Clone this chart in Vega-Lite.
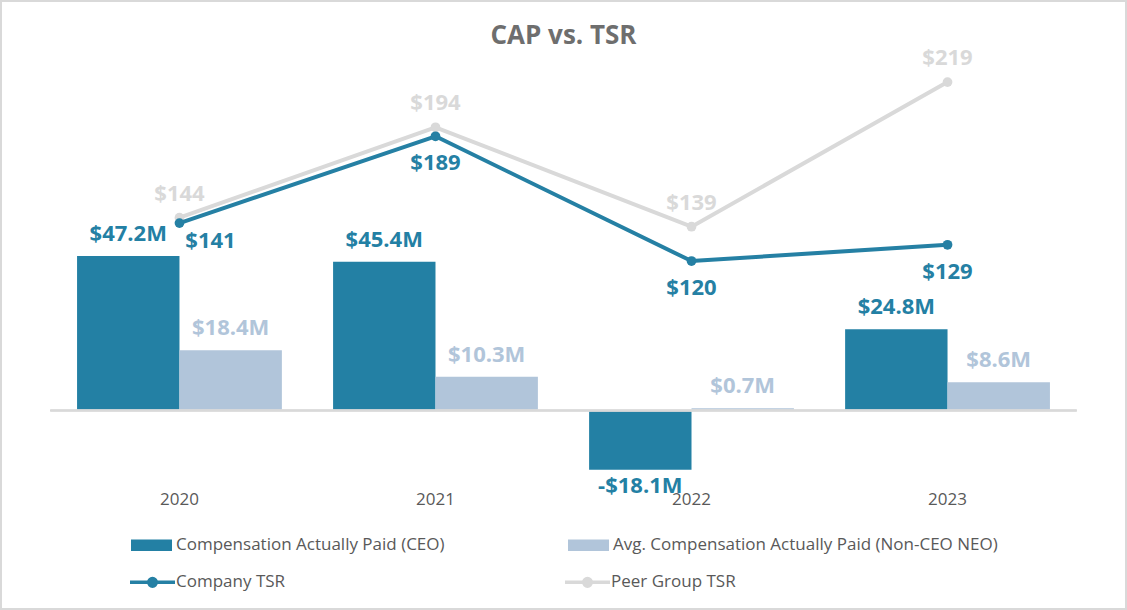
{
  "$schema": "https://vega.github.io/schema/vega-lite/v6.json",
  "width": 1127,
  "height": 610,
  "autosize": {"type": "none"},
  "padding": 0,
  "background": "white",
  "title": {"text": "CAP vs. TSR", "fontSize": 26, "font": "Open Sans", "fontWeight": "bold", "color": "#6e6e6e", "anchor": "middle", "offset": -70, "baseline": "alphabetic"},
  "config": {"view": {"stroke": "#d9d9d9", "strokeWidth": 4}, "font": "Open Sans"},
  "datasets": {
    "cap": [
      {"year": "2020", "metric": "Compensation Actually Paid (CEO)", "value": 47.2, "label": "$47.2M"},
      {"year": "2020", "metric": "Avg. Compensation Actually Paid (Non-CEO NEO)", "value": 18.4, "label": "$18.4M"},
      {"year": "2021", "metric": "Compensation Actually Paid (CEO)", "value": 45.4, "label": "$45.4M"},
      {"year": "2021", "metric": "Avg. Compensation Actually Paid (Non-CEO NEO)", "value": 10.3, "label": "$10.3M"},
      {"year": "2022", "metric": "Compensation Actually Paid (CEO)", "value": -18.1, "label": "-$18.1M"},
      {"year": "2022", "metric": "Avg. Compensation Actually Paid (Non-CEO NEO)", "value": 0.7, "label": "$0.7M"},
      {"year": "2023", "metric": "Compensation Actually Paid (CEO)", "value": 24.8, "label": "$24.8M"},
      {"year": "2023", "metric": "Avg. Compensation Actually Paid (Non-CEO NEO)", "value": 8.6, "label": "$8.6M"}
    ],
    "tsr": [
      {"year": "2020", "series": "Company TSR", "value": 141},
      {"year": "2021", "series": "Company TSR", "value": 189},
      {"year": "2022", "series": "Company TSR", "value": 120},
      {"year": "2023", "series": "Company TSR", "value": 129},
      {"year": "2020", "series": "Peer Group TSR", "value": 144},
      {"year": "2021", "series": "Peer Group TSR", "value": 194},
      {"year": "2022", "series": "Peer Group TSR", "value": 139},
      {"year": "2023", "series": "Peer Group TSR", "value": 219}
    ]
  },
  "encoding": {
    "x": {
      "field": "year", "type": "nominal",
      "scale": {"paddingInner": 0.2, "paddingOuter": 0.301},
      "axis": {"orient": "bottom", "offset": -119, "domain": false, "ticks": false, "tickSize": 0, "labelPadding": 0, "labelFontSize": 17, "labelColor": "#595959", "labelFont": "Open Sans", "title": null, "labelAngle": 0, "grid": false}
    }
  },
  "layer": [
    {
      "data": {"name": "cap"},
      "encoding": {
        "xOffset": {"field": "metric", "type": "nominal", "scale": {"domain": ["Compensation Actually Paid (CEO)", "Avg. Compensation Actually Paid (Non-CEO NEO)"], "paddingInner": 0, "paddingOuter": 0}},
        "y": {"field": "value", "type": "quantitative", "scale": {"domain": [-60.92, 125.34], "nice": false, "zero": false}, "axis": null},
        "fill": {
          "field": "metric", "type": "nominal",
          "scale": {"domain": ["Compensation Actually Paid (CEO)", "Avg. Compensation Actually Paid (Non-CEO NEO)"], "range": ["#2380a4", "#b1c5da"]},
          "legend": {"orient": "none", "legendX": 131, "legendY": 524.5, "direction": "horizontal", "columns": 2, "columnPadding": 123, "title": null, "padding": 0, "symbolType": "M-1,-0.28H1V0.28H-1Z", "symbolSize": 1681, "symbolStrokeWidth": 0, "labelFontSize": 17, "labelFont": "Open Sans", "labelColor": "#595959", "labelOffset": 4, "labelLimit": 500}
        }
      },
      "layer": [
        {"mark": {"type": "bar"}},
        {
          "transform": [{"filter": "datum.value >= 0"}],
          "mark": {"type": "text", "fontSize": 22, "fontWeight": "bold", "baseline": "alphabetic", "dy": -15, "align": "center"},
          "encoding": {"text": {"field": "label"}}
        },
        {
          "transform": [{"filter": "datum.value < 0"}],
          "mark": {"type": "text", "fontSize": 22, "fontWeight": "bold", "baseline": "top", "dy": 6, "align": "center"},
          "encoding": {"text": {"field": "label"}}
        },
        {
          "mark": {"type": "rule", "color": "#d9d9d9", "strokeWidth": 1.5},
          "encoding": {
            "x": {"datum": "2020", "bandPosition": -0.13},
            "x2": {"datum": "2023", "bandPosition": 1.13},
            "y": {"datum": 0},
            "xOffset": null,
            "fill": null
          }
        }
      ]
    },
    {
      "data": {"name": "tsr"},
      "encoding": {
        "y": {"field": "value", "type": "quantitative", "scale": {"domain": [-73.0, 264.4], "nice": false, "zero": false}, "axis": null}
      },
      "layer": [
        {
          "transform": [{"filter": "datum.series == 'Peer Group TSR'"}],
          "mark": {"type": "line", "strokeWidth": 4, "strokeJoin": "round", "strokeCap": "round"},
          "encoding": {
            "stroke": {"field": "series", "type": "nominal", "scale": {"domain": ["Company TSR", "Peer Group TSR"], "range": ["#2580a4", "#d9d9d9"]},
              "legend": {"orient": "none", "legendX": 128, "legendY": 557.5, "direction": "horizontal", "columns": 2, "columnPadding": 272, "title": null, "padding": 0, "symbolType": "M-1,0H1M-0.169,0A0.169,0.169,0,1,1,0.169,0A0.169,0.169,0,1,1,-0.169,0M-0.09,0A0.09,0.09,0,1,1,0.09,0A0.09,0.09,0,1,1,-0.09,0M-0.02,0A0.02,0.02,0,1,1,0.02,0A0.02,0.02,0,1,1,-0.02,0", "symbolSize": 2025, "symbolStrokeWidth": 3.5, "labelFontSize": 17, "labelFont": "Open Sans", "labelColor": "#595959", "labelOffset": -1, "labelLimit": 500}}
          }
        },
        {
          "transform": [{"filter": "datum.series == 'Peer Group TSR'"}],
          "mark": {"type": "point", "filled": true, "size": 95, "opacity": 1},
          "encoding": {"color": {"field": "series", "type": "nominal", "scale": {"domain": ["Company TSR", "Peer Group TSR"], "range": ["#2580a4", "#d9d9d9"]}, "legend": null}}
        },
        {
          "transform": [{"filter": "datum.series == 'Company TSR'"}],
          "mark": {"type": "line", "strokeWidth": 4, "strokeJoin": "round", "strokeCap": "round"},
          "encoding": {
            "stroke": {"field": "series", "type": "nominal", "scale": {"domain": ["Company TSR", "Peer Group TSR"], "range": ["#2580a4", "#d9d9d9"]},
              "legend": {"orient": "none", "legendX": 128, "legendY": 557.5, "direction": "horizontal", "columns": 2, "columnPadding": 272, "title": null, "padding": 0, "symbolType": "M-1,0H1M-0.169,0A0.169,0.169,0,1,1,0.169,0A0.169,0.169,0,1,1,-0.169,0M-0.09,0A0.09,0.09,0,1,1,0.09,0A0.09,0.09,0,1,1,-0.09,0M-0.02,0A0.02,0.02,0,1,1,0.02,0A0.02,0.02,0,1,1,-0.02,0", "symbolSize": 2025, "symbolStrokeWidth": 3.5, "labelFontSize": 17, "labelFont": "Open Sans", "labelColor": "#595959", "labelOffset": -1, "labelLimit": 500}}
          }
        },
        {
          "transform": [{"filter": "datum.series == 'Company TSR'"}],
          "mark": {"type": "point", "filled": true, "size": 95, "opacity": 1},
          "encoding": {"color": {"field": "series", "type": "nominal", "scale": {"domain": ["Company TSR", "Peer Group TSR"], "range": ["#2580a4", "#d9d9d9"]}, "legend": null}}
        },
        {
          "transform": [{"filter": "datum.series == 'Peer Group TSR'"}],
          "mark": {"type": "text", "fontSize": 22, "fontWeight": "bold", "baseline": "alphabetic", "dy": -17, "align": "center"},
          "encoding": {"text": {"field": "value", "type": "quantitative", "format": "$.0f"}, "color": {"field": "series", "type": "nominal", "legend": null}}
        },
        {
          "transform": [{"filter": "datum.series == 'Company TSR' && datum.year != '2020'"}],
          "mark": {"type": "text", "fontSize": 22, "fontWeight": "bold", "baseline": "alphabetic", "dy": 34, "align": "center"},
          "encoding": {"text": {"field": "value", "type": "quantitative", "format": "$.0f"}, "color": {"field": "series", "type": "nominal", "legend": null}}
        },
        {
          "transform": [{"filter": "datum.series == 'Company TSR' && datum.year == '2020'"}],
          "mark": {"type": "text", "fontSize": 22, "fontWeight": "bold", "baseline": "alphabetic", "dy": 25, "dx": 31, "align": "center"},
          "encoding": {"text": {"field": "value", "type": "quantitative", "format": "$.0f"}, "color": {"field": "series", "type": "nominal", "legend": null}}
        }
      ]
    }
  ],
  "resolve": {"scale": {"y": "independent"}}
}
